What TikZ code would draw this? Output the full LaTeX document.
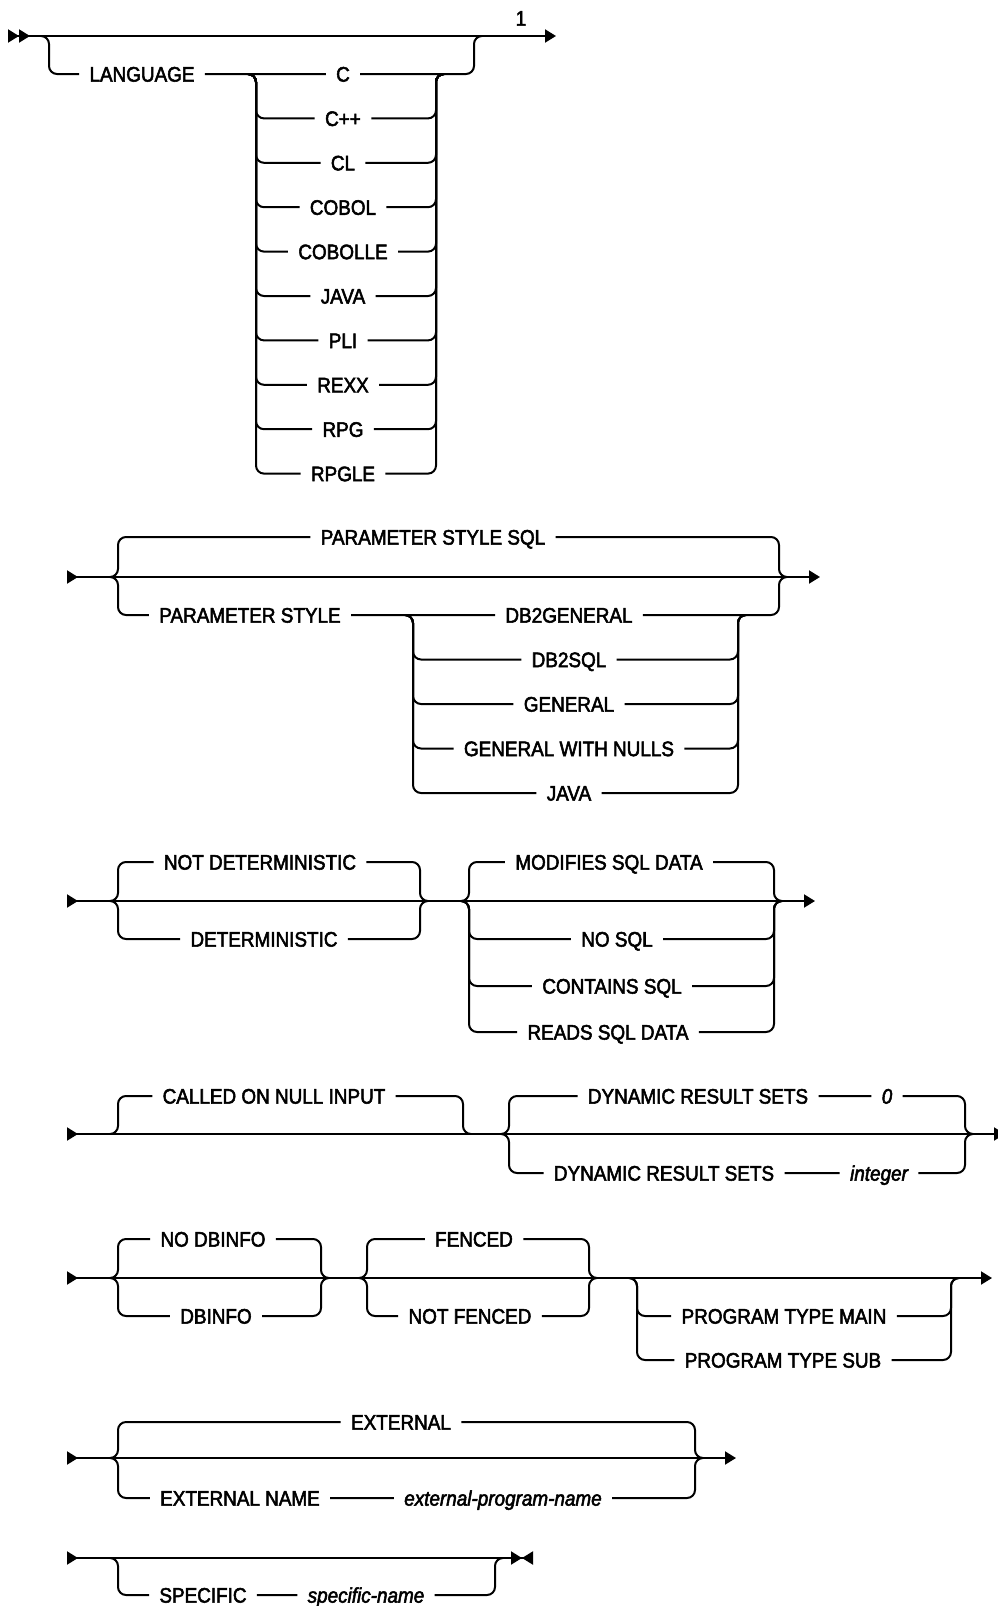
\documentclass[tikz,border=0pt]{standalone}
\usepackage{fontspec}
\setmainfont{Liberation Sans}[FakeBold=2.5, FakeStretch=0.9]
\usetikzlibrary{arrows.meta,positioning,calc}

\begin{document}
\begin{tikzpicture}[
  x=0.5pt, y=-0.5pt,
  tri/.tip={Triangle[length=5.5pt,width=6.5pt]},
  rail/.style={line width=1pt, rounded corners=4pt},
  kw/.style={
    inner xsep=5pt, inner ysep=2pt, text height=7.6pt, text depth=0pt,
    font=\fontsize{10.5}{12}\selectfont
  },
  var/.style={kw, font=\fontsize{10.5}{12}\selectfont\itshape}
]
\useasboundingbox (0,0) rectangle (997,1606);

% Row 1: LANGUAGE
\coordinate (s1) at (8,36);
\coordinate (e1) at (556,36);
\coordinate (l1) at (49,36);
\coordinate (r1) at (474,36);
\coordinate (l2) at (256,74);
\coordinate (r2) at (436,74);
\draw[rail, {tri[reversed] tri[reversed]}-{tri[]}] (s1) -- (e1);
\node[kw] (note) at (521,18) {1};
\node[kw] (lang) at (142,74) {LANGUAGE};
\foreach \lbl [count=\i] in {C,C++,CL,COBOL,COBOLLE,JAVA,PLI,REXX,RPG,RPGLE}
  \node[kw] (lg\i) at (343,{74+44.4*(\i-1)}) {\lbl};
\draw[rail] ([xshift=-4pt]l1) -| (l1 |- lang) -- (lang) -- (lg1) -- (r1 |- lg1) |- ([xshift=4pt]r1);
\foreach \i in {2,...,10} {
  \draw[rail] ([xshift=-4pt]l2) -| (l2 |- lg\i) -- (lg\i);
  \draw[rail] (lg\i) -- (r2 |- lg\i) |- ([xshift=4pt]r2);
}

% Row 2: PARAMETER STYLE
\coordinate (s2) at (67,577);
\coordinate (e2) at (820,577);
\coordinate (l3) at (118,577);
\coordinate (r3) at (779,577);
\coordinate (l4) at (413,615);
\coordinate (r4) at (738,615);
\draw[rail, {tri[reversed]}-{tri[]}] (s2) -- (e2);
\node[kw] (psql) at (433,537) {PARAMETER STYLE SQL};
\node[kw] (pstyle) at (250,615) {PARAMETER STYLE};
\foreach \lbl [count=\i] in {DB2GENERAL,DB2SQL,GENERAL,GENERAL WITH NULLS,JAVA}
  \node[kw] (ps\i) at (569,{615+44.5*(\i-1)}) {\lbl};
\draw[rail] ([xshift=-4pt]l3) -| (l3 |- psql) -- (psql) -- (r3 |- psql) |- ([xshift=4pt]r3);
\draw[rail] ([xshift=-4pt]l3) -| (l3 |- pstyle) -- (pstyle) -- (ps1) -- (r3 |- ps1) |- ([xshift=4pt]r3);
\foreach \i in {2,...,5} {
  \draw[rail] ([xshift=-4pt]l4) -| (l4 |- ps\i) -- (ps\i);
  \draw[rail] (ps\i) -- (r4 |- ps\i) |- ([xshift=4pt]r4);
}

% Row 3: DETERMINISTIC, SQL data access
\coordinate (s3) at (67,901);
\coordinate (e3) at (815,901);
\coordinate (l5) at (118,901);
\coordinate (r5) at (420,901);
\coordinate (l6) at (469,901);
\coordinate (r6) at (774,901);
\draw[rail, {tri[reversed]}-{tri[]}] (s3) -- (e3);
\node[kw] (ndet) at (260,862) {NOT DETERMINISTIC};
\node[kw] (det) at (264,939) {DETERMINISTIC};
\foreach \lbl/\x/\y [count=\i] in {MODIFIES SQL DATA/609/862, NO SQL/617/939,
    CONTAINS SQL/612/986, READS SQL DATA/608/1032}
  \node[kw] (sd\i) at (\x,\y) {\lbl};
\draw[rail] ([xshift=-4pt]l5) -| (l5 |- ndet) -- (ndet) -- (r5 |- ndet) |- ([xshift=4pt]r5);
\draw[rail] ([xshift=-4pt]l5) -| (l5 |- det) -- (det) -- (r5 |- det) |- ([xshift=4pt]r5);
\foreach \i in {1,...,4} {
  \draw[rail] ([xshift=-4pt]l6) -| (l6 |- sd\i) -- (sd\i) -- (r6 |- sd\i) |- ([xshift=4pt]r6);
}

% Row 4: null input, result sets
\coordinate (s4) at (67,1134);
\coordinate (e4) at (1005,1134);
\coordinate (l7) at (118,1134);
\coordinate (r7) at (463,1134);
\coordinate (l8) at (509,1134);
\coordinate (r8) at (965,1134);
\draw[rail, {tri[reversed]}-{tri[]}] (s4) -- (e4);
\node[kw] (called) at (274,1096) {CALLED ON NULL INPUT};
\node[kw] (drs1) at (698,1096) {DYNAMIC RESULT SETS};
\node[var] (zero) at (887,1096) {0};
\node[kw] (drs2) at (664,1173) {DYNAMIC RESULT SETS};
\node[var] (intg) at (879,1173) {integer};
\draw[rail] ([xshift=-4pt]l7) -| (l7 |- called) -- (called) -- (r7 |- called) |- ([xshift=4pt]r7);
\draw[rail] ([xshift=-4pt]l8) -| (l8 |- drs1) -- (drs1) -- (zero) -- (r8 |- zero) |- ([xshift=4pt]r8);
\draw[rail] ([xshift=-4pt]l8) -| (l8 |- drs2) -- (drs2) -- (intg) -- (r8 |- intg) |- ([xshift=4pt]r8);

% Row 5: DBINFO, FENCED, PROGRAM TYPE
\coordinate (s5) at (67,1278);
\coordinate (e5) at (992,1278);
\coordinate (l9) at (118,1278);
\coordinate (r9) at (321,1278);
\coordinate (l10) at (367,1278);
\coordinate (r10) at (589,1278);
\coordinate (l11) at (637,1278);
\coordinate (r11) at (951,1278);
\draw[rail, {tri[reversed]}-{tri[]}] (s5) -- (e5);
\node[kw] (nodb) at (213,1239) {NO DBINFO};
\node[kw] (db) at (216,1316) {DBINFO};
\node[kw] (fen) at (474,1239) {FENCED};
\node[kw] (nfen) at (470,1316) {NOT FENCED};
\node[kw] (ptm) at (784,1316) {PROGRAM TYPE MAIN};
\node[kw] (pts) at (783,1360) {PROGRAM TYPE SUB};
\foreach \a/\l/\r in {nodb/l9/r9, db/l9/r9, fen/l10/r10, nfen/l10/r10, ptm/l11/r11, pts/l11/r11} {
  \draw[rail] ([xshift=-4pt]\l) -| (\l |- \a) -- (\a) -- (\r |- \a) |- ([xshift=4pt]\r);
}

% Row 6: EXTERNAL
\coordinate (s6) at (67,1458);
\coordinate (e6) at (736,1458);
\coordinate (l12) at (118,1458);
\coordinate (r12) at (695,1458);
\draw[rail, {tri[reversed]}-{tri[]}] (s6) -- (e6);
\node[kw] (ext) at (401,1422) {EXTERNAL};
\node[kw] (extn) at (240,1498) {EXTERNAL NAME};
\node[var] (epn) at (503,1498) {external-program-name};
\draw[rail] ([xshift=-4pt]l12) -| (l12 |- ext) -- (ext) -- (r12 |- ext) |- ([xshift=4pt]r12);
\draw[rail] ([xshift=-4pt]l12) -| (l12 |- extn) -- (extn) -- (epn) -- (r12 |- epn) |- ([xshift=4pt]r12);

% Row 7: SPECIFIC
\coordinate (s7) at (67,1558);
\coordinate (e7) at (533,1558);
\coordinate (l13) at (118,1558);
\coordinate (r13) at (495,1558);
\draw[rail, {tri[reversed]}-{tri[] tri[reversed]}] (s7) -- (e7);
\node[kw] (spec) at (203,1595) {SPECIFIC};
\node[var] (spn) at (366,1595) {specific-name};
\draw[rail] ([xshift=-4pt]l13) -| (l13 |- spec) -- (spec) -- (spn) -- (r13 |- spn) |- ([xshift=4pt]r13);

\end{tikzpicture}
\end{document}
